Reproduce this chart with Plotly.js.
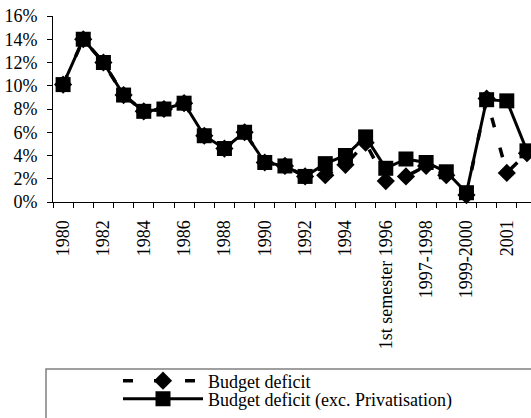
<!DOCTYPE html>
<html>
<head>
<meta charset="utf-8">
<script src="https://cdn.plot.ly/plotly-3.0.1.min.js"></script>
<style>html,body{margin:0;padding:0;background:#fff;}#chart{width:531px;height:418px;}</style>
</head>
<body>
<div id="chart"></div>
<script>
// Categories (only every other one is labelled in the reference)
const categories = ["1980","1981","1982","1983","1984","1985","1986","1987","1988","1989",
  "1990","1991","1992","1993","1994","1995","1st semester 1996","1996-1997","1997-1998",
  "1998-1999","1999-2000","2000","2001","2002"];
// Budget deficit, % of GDP
const budgetDeficit = [10.1,14.0,12.0,9.2,7.8,8.0,8.5,5.7,4.6,6.0,
  3.4,3.1,2.2,2.3,3.2,5.1,1.8,2.2,3.1,2.3,0.6,8.9,2.5,4.2];
// Budget deficit excluding privatisation, % of GDP
const budgetDeficitExPriv = [10.1,14.0,12.0,9.2,7.8,8.0,8.5,5.7,4.6,6.0,
  3.4,3.1,2.2,3.3,4.0,5.6,2.9,3.7,3.4,2.6,0.8,8.8,8.7,4.4];
const seriesNames = ["Budget deficit","Budget deficit (exc. Privatisation)"];
const tickLabels = categories.map((c,i)=> i%2===0 ? c : "");

const W=531,H=418,ML=53,MR=0,MT=16,MB=216;
const pw=W-ML-MR, ph=H-MT-MB;
const px2x = p => (p-ML)/pw;
const py2y = p => (H-MB-p)/ph;
const FONT = "Liberation Serif";

const traces = [
  {x:categories, y:budgetDeficitExPriv, name:seriesNames[1], type:'scatter', mode:'lines+markers',
   line:{color:'#000',width:3}, marker:{symbol:'square',size:15,color:'#000'},
   cliponaxis:false, legend:'legend2'},
  {x:categories, y:budgetDeficit, name:seriesNames[0], type:'scatter', mode:'lines+markers',
   line:{color:'#000',width:3.5,dash:'10px,21px'}, marker:{symbol:'diamond',size:14,color:'#000'},
   cliponaxis:false, legend:'legend'}
];

const legendCommon = {font:{family:FONT,size:18,color:'#000'}, bgcolor:'rgba(0,0,0,0)',
  borderwidth:0, xanchor:'left', yanchor:'middle', itemwidth:80};

const layout = {
  width:W, height:H,
  margin:{l:ML,r:MR,t:MT,b:MB,pad:0},
  paper_bgcolor:'#fff', plot_bgcolor:'#fff',
  font:{family:FONT,size:18,color:'#000'},
  xaxis:{type:'category', range:[-0.5,23.2], showgrid:false, zeroline:false,
    showline:true, linecolor:'#000', linewidth:1, ticks:'outside', ticklen:5, tickcolor:'#000',
    tickson:'boundaries', tickvals:categories, ticktext:tickLabels, tickangle:-90,
    ticklabelstandoff:10,
    tickfont:{family:FONT,size:18,color:'#000'}},
  yaxis:{range:[0,16], dtick:2, tick0:0, ticksuffix:'%', showgrid:false, zeroline:false,
    showline:true, linecolor:'#000', linewidth:1, ticks:'outside', ticklen:5, tickcolor:'#000',
    ticklabelstandoff:6,
    tickfont:{family:FONT,size:18,color:'#000'}},
  showlegend:true,
  legend:Object.assign({x:px2x(118), y:py2y(381)}, legendCommon),
  legend2:Object.assign({x:px2x(118), y:py2y(399)}, legendCommon),
  shapes:[{type:'rect', xref:'paper', yref:'paper', x0:px2x(46), x1:px2x(560),
    y0:py2y(369), y1:py2y(440), line:{color:'#808080',width:1.5}, fillcolor:'rgba(0,0,0,0)'}]
};

Plotly.newPlot('chart', traces, layout, {displayModeBar:false, staticPlot:true});
</script>
</body>
</html>
